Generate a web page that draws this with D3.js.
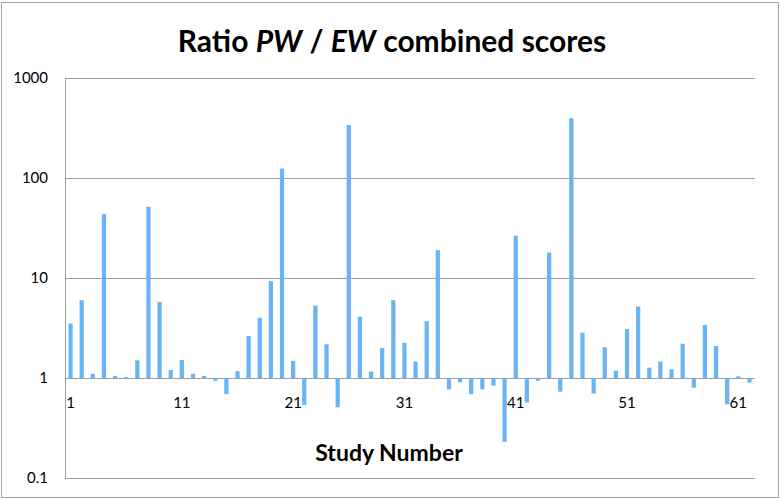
<!DOCTYPE html>
<html>
<head>
<meta charset="utf-8">
<script src="https://cdn.jsdelivr.net/npm/d3@7"></script>
<style>
  body { margin: 0; background: #fff; }
  svg text { font-family: Lato, "Open Sans", sans-serif; fill: #000; }
</style>
</head>
<body>
<div class="canvas"></div>
<script>
// data: ratio per study
const studies = d3.range(1, 63);
const ratios = [
  3.5, 6.0, 1.1, 43.6, 1.05, 1.02, 1.5, 51.5, 5.75, 1.2,
  1.51, 1.1, 1.05, 0.94, 0.69, 1.17, 2.63, 4.0, 9.3, 124,
  1.48, 0.54, 5.3, 2.17, 0.51, 339, 4.1, 1.16, 2.0, 6.0,
  2.25, 1.46, 3.7, 19.0, 0.77, 0.905, 0.69, 0.77, 0.84, 0.23,
  26.5, 0.57, 0.94, 17.9, 0.73, 396, 2.84, 0.70, 2.03, 1.18,
  3.09, 5.17, 1.27, 1.46, 1.22, 2.2, 0.8, 3.39, 2.09, 0.545,
  1.04, 0.9
];
const yTicks = [0.1, 1, 10, 100, 1000];
const xTickLabels = [1, 11, 21, 31, 41, 51, 61];

// dimensions
const w = 780;
const h = 499;
const margin = { top: 78, right: 25, bottom: 21, left: 65 };
const graphWidth = w - margin.left - margin.right;
const graphHeight = h - margin.top - margin.bottom;

const svg = d3.select(".canvas").append("svg").attr("width", w).attr("height", h);

// outer frame
svg.append("rect")
  .attr("x", 1.5).attr("y", 2.5)
  .attr("width", w - 3).attr("height", h - 4)
  .attr("fill", "none")
  .attr("stroke", "#a3a8a8");

const graph = svg.append("g").attr("transform", `translate(${margin.left}, ${margin.top})`);

const x = d3.scaleBand().domain(studies).range([0, graphWidth]).paddingInner(0.62).paddingOuter(0.31);
const y = d3.scaleLog().domain([0.1, 1000]).range([graphHeight, 0]);

// gridlines
graph.selectAll("line.grid")
  .data(yTicks)
  .enter()
  .append("line")
  .attr("class", "grid")
  .attr("x1", 0)
  .attr("x2", graphWidth)
  .attr("y1", (d) => Math.round(y(d)) + 0.5)
  .attr("y2", (d) => Math.round(y(d)) + 0.5)
  .attr("stroke", "#9a9f9f");

// left axis line
graph.append("line")
  .attr("x1", 0.5).attr("x2", 0.5)
  .attr("y1", 0).attr("y2", graphHeight)
  .attr("stroke", "#9a9f9f");

// y tick labels
graph.selectAll("text.ytick")
  .data(yTicks)
  .enter()
  .append("text")
  .attr("class", "ytick")
  .attr("x", -17)
  .attr("y", (d) => y(d))
  .attr("dy", "0.35em")
  .attr("text-anchor", "end")
  .attr("font-size", 15)
  .text((d) => d);

// bars from baseline 1
graph.selectAll("rect.bar")
  .data(ratios)
  .enter()
  .append("rect")
  .attr("class", "bar")
  .attr("x", (d, i) => x(studies[i]))
  .attr("width", x.bandwidth())
  .attr("y", (d) => Math.min(y(d), y(1)))
  .attr("height", (d) => Math.abs(y(d) - y(1)))
  .attr("fill", "#68b4f4");

// x tick labels sitting under the value-1 line
graph.selectAll("text.xtick")
  .data(xTickLabels)
  .enter()
  .append("text")
  .attr("class", "xtick")
  .attr("x", (d) => x(d) + x.bandwidth() / 2)
  .attr("y", y(1) + 30)
  .attr("text-anchor", "middle")
  .attr("font-size", 15)
  .text((d) => d);

// title
const title = svg.append("text")
  .attr("x", 392)
  .attr("y", 52)
  .attr("text-anchor", "middle")
  .attr("font-size", 30)
  .attr("font-weight", "bold");
title.append("tspan").text("Ratio ");
title.append("tspan").attr("font-style", "italic").text("PW");
title.append("tspan").text(" / ");
title.append("tspan").attr("font-style", "italic").text("EW");
title.append("tspan").text(" combined scores");

// x axis title
svg.append("text")
  .attr("x", 389)
  .attr("y", 461)
  .attr("text-anchor", "middle")
  .attr("font-size", 23)
  .attr("font-weight", "bold")
  .text("Study Number");
</script>
</body>
</html>
